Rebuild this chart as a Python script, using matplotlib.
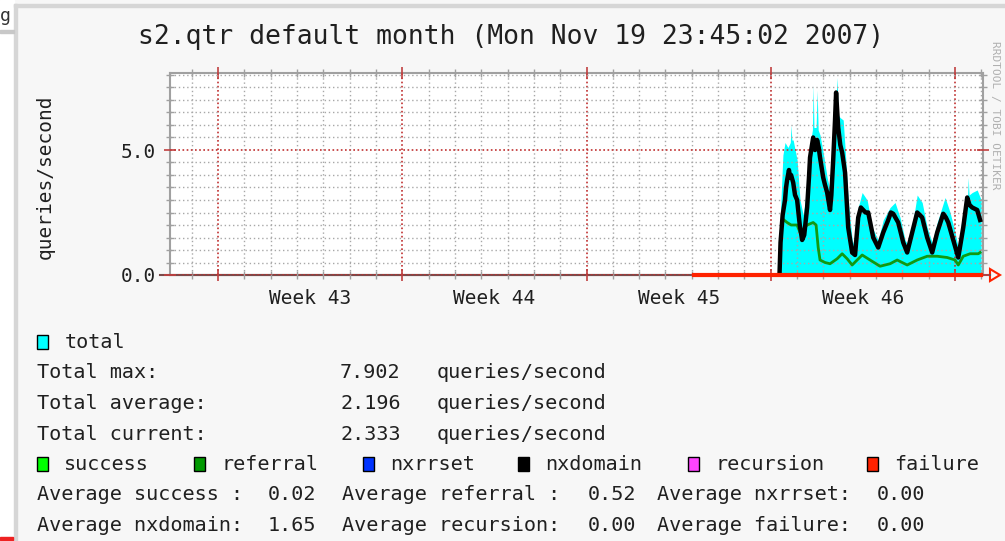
import numpy as np
import matplotlib
matplotlib.use("Agg")
import matplotlib.pyplot as plt
from matplotlib.patches import Rectangle, Polygon

plt.rcParams['font.family'] = ['DejaVu Sans Mono']

W, H = 1005, 541

# days since Mon Oct 22 2007 00:00
total_days = [21.34, 21.37, 21.46, 21.54, 21.65, 21.74, 21.77, 21.80, 21.85, 22.00, 22.11, 22.23,
              22.38, 22.49, 22.58, 22.61, 22.64, 22.72, 22.76, 22.80, 22.87, 22.99, 23.14, 23.25,
              23.37, 23.48, 23.52, 23.56, 23.63, 23.75, 23.82, 23.94, 24.09, 24.20, 24.32, 24.47,
              24.66, 24.85, 25.08, 25.27, 25.53, 25.72, 25.91, 26.10, 26.22, 26.41, 26.56, 26.75,
              26.94, 27.13, 27.32, 27.62, 27.81, 28.00, 28.12, 28.31, 28.47, 28.50, 28.53, 28.65,
              28.84, 28.99]
total_vals = [0.0, 2.6, 4.8, 5.3, 5.1, 5.3, 6.0, 5.4, 5.4, 4.6, 3.0, 2.4,
              3.5, 5.2, 5.8, 7.6, 5.9, 5.9, 7.4, 5.8, 5.6, 4.9, 3.9, 3.4,
              5.2, 7.1, 7.9, 6.4, 6.3, 6.2, 5.1, 3.0, 1.4, 1.1, 2.7, 3.3,
              3.0, 1.9, 1.4, 2.2, 2.7, 2.9, 2.3, 1.4, 1.2, 2.2, 3.2, 2.9,
              1.9, 1.3, 2.1, 3.1, 2.5, 1.7, 1.1, 2.6, 3.0, 3.9, 3.2, 3.3,
              3.4, 3.0]

nxdomain_days = [21.33, 21.37, 21.45, 21.54, 21.58, 21.62, 21.69, 21.73, 21.77, 21.85, 21.92, 22.00,
                 22.10, 22.19, 22.27, 22.38, 22.45, 22.49, 22.55, 22.61, 22.68, 22.76, 22.82, 22.87,
                 22.99, 23.06, 23.14, 23.25, 23.30, 23.37, 23.44, 23.48, 23.56, 23.64, 23.71, 23.82,
                 23.94, 24.09, 24.20, 24.32, 24.42, 24.51, 24.60, 24.70, 24.89, 25.08, 25.27, 25.46,
                 25.56, 25.65, 25.84, 26.03, 26.18, 26.37, 26.56, 26.66, 26.75, 26.94, 27.13, 27.32,
                 27.55, 27.65, 27.74, 27.93, 28.12, 28.31, 28.46, 28.55, 28.65, 28.84, 28.95]
nxdomain_vals = [0.0, 1.3, 2.4, 3.0, 3.5, 3.8, 4.2, 3.9, 4.0, 3.7, 3.2, 3.0,
                 2.0, 1.4, 1.6, 2.7, 3.9, 4.7, 5.1, 5.5, 5.0, 5.4, 5.1, 4.7,
                 3.9, 3.6, 3.3, 2.6, 3.2, 4.6, 6.2, 7.3, 5.9, 5.2, 4.9, 4.1,
                 1.9, 0.9, 0.8, 2.3, 2.7, 2.6, 2.5, 2.5, 1.5, 1.1, 1.7, 2.2,
                 2.5, 2.45, 2.1, 1.3, 0.9, 1.7, 2.5, 2.4, 2.3, 1.5, 0.9, 1.7,
                 2.45, 2.3, 2.1, 1.4, 0.7, 1.9, 3.1, 2.8, 2.7, 2.6, 2.2]

referral_days = [21.50, 21.62, 21.77, 22.00, 22.11, 22.38, 22.61, 22.72, 22.80, 22.87, 23.06, 23.25,
                 23.52, 23.71, 23.90, 24.09, 24.28, 24.47, 24.77, 25.15, 25.53, 25.80, 26.18, 26.56,
                 26.94, 27.32, 27.70, 28.00, 28.12, 28.31, 28.57, 28.88, 28.95]
referral_vals = [2.2, 2.1, 2.0, 2.0, 1.7, 2.0, 2.1, 2.0, 1.1, 0.6, 0.5, 0.45,
                 0.65, 0.85, 0.65, 0.4, 0.6, 0.8, 0.6, 0.35, 0.45, 0.6, 0.4, 0.6,
                 0.75, 0.75, 0.7, 0.6, 0.4, 0.75, 0.85, 0.85, 0.9]

failure_days = [18.1, 29.0]
failure_vals = [0.0, 0.0]

week_pos = [3.5, 10.5, 17.5, 24.5]
week_labels = ["Week 43", "Week 44", "Week 45", "Week 46"]

legend_names = ["success", "referral", "nxrrset", "nxdomain", "recursion", "failure"]
legend_colors = ["#00ff00", "#009900", "#0033ff", "#000000", "#ff44ff", "#ff2200"]
legend_x = [37, 194, 363, 518, 688, 867]

total_lines = ["Total max:", "Total average:", "Total current:"]
total_nums = ["7.902", "2.196", "2.333"]
avg_rows = [["Average success :", "0.02", "Average referral :", "0.52", "Average nxrrset:", "0.00"],
            ["Average nxdomain:", "1.65", "Average recursion:", "0.00", "Average failure:", "0.00"]]

fig = plt.figure(figsize=(W / 100, H / 100), dpi=100, facecolor="#f7f7f7")


def fx(px):
    return px / W


def fy(py):
    return 1 - py / H


# page bits around the screenshot
fig.patches.append(Rectangle((0, 0), fx(14), 1, transform=fig.transFigure, color="white", zorder=0))
fig.patches.append(Rectangle((fx(14), 0), fx(3), fy(4), transform=fig.transFigure, color="#d6d6d6", zorder=1))
fig.patches.append(Rectangle((fx(14), fy(7)), 1, 3 / H, transform=fig.transFigure, color="#d6d6d6", zorder=1))
fig.patches.append(Rectangle((0, fy(33)), fx(14), 3 / H, transform=fig.transFigure, color="#c8c8c8", zorder=1))
fig.patches.append(Rectangle((0, fy(540)), fx(13), 3 / H, transform=fig.transFigure, color="#ee2222", zorder=1))
fig.text(fx(0), fy(16), "g", fontsize=13, va="center", ha="left", color="#333333")

fig.text(fx(511), fy(37), "s2.qtr default month (Mon Nov 19 23:45:02 2007)",
         fontsize=19, ha="center", va="center", color="#202020")
fig.text(fx(995), fy(115), "RRDTOOL / TOBI OETIKER", fontsize=8, rotation=270,
         ha="center", va="center", color="#b0b0b0")

ax = fig.add_axes([fx(170), 1 - 275 / H, 813 / W, 202 / H])
ax.set_facecolor("white")

ax.fill_between(total_days, 0, total_vals, color="#00ffff", lw=0, zorder=1)
ax.plot(referral_days, referral_vals, color="#119911", lw=2.0, zorder=3)
ax.plot(nxdomain_days, nxdomain_vals, color="black", lw=3.2, zorder=4)
ax.plot(failure_days, failure_vals, color="#ff2200", lw=3, zorder=5, clip_on=False)

ax.set_xlim(-1.82, 29.06)
ax.set_ylim(0, 8.08)

ax.set_xticks(np.arange(0, 29, 7))
ax.set_xticks(np.arange(-1, 30, 1), minor=True)
ax.set_yticks([0, 5])
ax.set_yticklabels(["0.0", "5.0"])
ax.set_yticks(np.arange(0, 8.1, 0.5), minor=True)
ax.set_xticklabels([])
ax.set_axisbelow(False)

ax.grid(which="minor", color="#a8a8a8", lw=1, linestyle=(0, (1, 2)))
ax.grid(which="major", color="#c03030", lw=1.2, linestyle=(0, (1, 1.5)))
ax.tick_params(which="minor", direction="inout", length=6, width=1, color="#a0a0a0",
               top=True, right=True)
ax.tick_params(which="major", direction="inout", length=8, width=1.2, color="#c04040",
               top=True, right=True, labelsize=14, labelcolor="#202020", pad=6)
for s in ax.spines.values():
    s.set_color("#a0a0a0")
    s.set_linewidth(1.5)
ax.spines["bottom"].set_color("#7a4a4a")

# extended x axis with arrow
ax.plot([-10 / 813, 1 + 7 / 813], [0, 0], transform=ax.transAxes, color="#7a4a4a", lw=1.5,
        clip_on=False, zorder=2)
ax.add_patch(Polygon([[1 + 7 / 813, 6 / 202], [1 + 17 / 813, 0], [1 + 7 / 813, -6 / 202]],
                     closed=True, fill=False, edgecolor="#ff2200", lw=1.5,
                     transform=ax.transAxes, clip_on=False))

for p, lab in zip(week_pos, week_labels):
    ax.text(p, -23 / 202, lab, transform=ax.get_xaxis_transform(), ha="center", va="center",
            fontsize=14, color="#202020")

ax.set_ylabel("queries/second", fontsize=14, color="#202020", va="center")
ax.yaxis.set_label_coords(-(170 - 45) / 813, (275 - 177) / 202)


# legend area
def swatch(x, y, color):
    fig.patches.append(Rectangle((fx(x), fy(y + 7)), 11 / W, 14 / H, transform=fig.transFigure,
                                 facecolor=color, edgecolor="black", lw=1))


swatch(37, 342, "#00ffff")
fig.text(fx(65), fy(343), "total", fontsize=14.5, va="center", color="#202020")
for i, (a, b) in enumerate(zip(total_lines, total_nums)):
    y = 373 + i * 30.5
    fig.text(fx(37), fy(y), a, fontsize=14.5, va="center", color="#202020")
    fig.text(fx(340), fy(y), b, fontsize=14.5, va="center", color="#202020")
    fig.text(fx(437), fy(y), "queries/second", fontsize=14.5, va="center", color="#202020")

for name, col, x in zip(legend_names, legend_colors, legend_x):
    swatch(x, 464, col)
    fig.text(fx(x + 27), fy(465), name, fontsize=14.5, va="center", color="#202020")

col_x = [37, 268, 342, 588, 657, 877]
for j, row in enumerate(avg_rows):
    y = 495 + j * 30.5
    for x, t in zip(col_x, row):
        fig.text(fx(x), fy(y), t, fontsize=14.5, va="center", color="#202020")

fig.savefig("out.png", dpi=100, facecolor=fig.get_facecolor())
